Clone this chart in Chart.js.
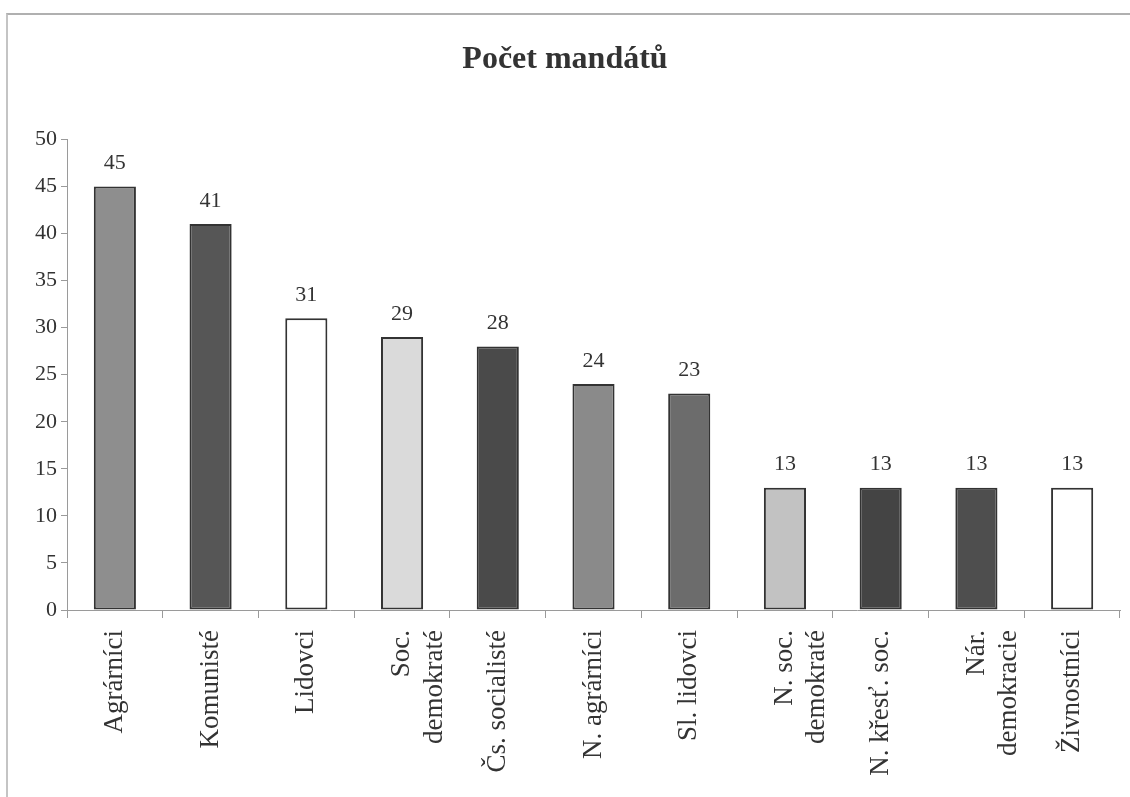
<!DOCTYPE html>
<html>
<head>
<meta charset="utf-8">
<title>Počet mandátů</title>
<script src="https://cdn.jsdelivr.net/npm/chart.js@4"></script>
<style>
    body { margin: 0; background: #fff; }
    #wrap { position: relative; width: 1130px; height: 797px; }
    #frame {
        position: absolute; left: 6px; top: 13px; right: 0; bottom: 0;
        border-top: 2px solid #b0b0b0; border-left: 2px solid #c4c4c4;
    }
    canvas { position: absolute; left: 0; top: 0; }
</style>
</head>
<body>
<div id="wrap">
    <div id="frame"></div>
    <canvas id="chart" width="1130" height="797"></canvas>
</div>
<script>
// Strany a počty mandátů
const categories = [
    "Agrárníci", "Komunisté", "Lidovci", ["Soc.", "demokraté"], "Čs. socialisté",
    "N. agrárníci", "Sl. lidovci", ["N. soc.", "demokraté"], "N. křesť. soc.",
    ["Nár.", "demokracie"], "Živnostníci"
];
const seats = [45, 41, 31, 29, 28, 24, 23, 13, 13, 13, 13];
const barColors = [
    "#8e8e8e", "#565656", "#ffffff", "#dadada", "#4a4a4a",
    "#8a8a8a", "#6c6c6c", "#c2c2c2", "#444444", "#4e4e4e", "#ffffff"
];
const yTicks = [0, 5, 10, 15, 20, 25, 30, 35, 40, 45, 50];

const serif = "'Liberation Serif', 'DejaVu Serif', serif";
const textColor = "#333333";
const axisColor = "#9a9a9a";

// Popisky hodnot nad sloupci
const valueLabels = {
    id: "valueLabels",
    afterDatasetsDraw(chart) {
        const ctx = chart.ctx;
        const meta = chart.getDatasetMeta(0);
        ctx.save();
        ctx.font = "22px " + serif;
        ctx.fillStyle = textColor;
        ctx.textAlign = "center";
        ctx.textBaseline = "middle";
        meta.data.forEach((bar, i) => {
            ctx.fillText(String(seats[i]), bar.x, bar.y - 23);
        });
        ctx.restore();
    }
};

new Chart(document.getElementById("chart"), {
    type: "bar",
    data: {
        labels: categories,
        datasets: [{
            data: seats,
            backgroundColor: barColors,
            borderColor: "#333333",
            borderWidth: 2,
            borderSkipped: false,
            categoryPercentage: 1,
            barPercentage: 0.44
        }]
    },
    options: {
        responsive: false,
        animation: false,
        layout: { padding: { left: 10, right: 10, top: 0, bottom: 0 } },
        plugins: {
            legend: { display: false },
            tooltip: { enabled: false },
            title: {
                display: true,
                text: "Počet mandátů",
                color: textColor,
                font: { family: serif, size: 32, weight: "bold" },
                padding: { top: 41, bottom: 60 }
            }
        },
        scales: {
            x: {
                grid: {
                    display: true, drawOnChartArea: false, offset: true,
                    color: axisColor, tickLength: 8
                },
                border: { color: axisColor, width: 1 },
                ticks: {
                    color: textColor,
                    font: { family: serif, size: 27 },
                    minRotation: 90, maxRotation: 90,
                    autoSkip: false, padding: 12
                },
                afterFit(scale) { scale.height = 187; }
            },
            y: {
                min: 0, max: 50,
                grid: {
                    display: true, drawOnChartArea: false,
                    color: axisColor, tickLength: 6
                },
                border: { color: axisColor, width: 1 },
                ticks: {
                    stepSize: 5,
                    color: textColor,
                    font: { family: serif, size: 22 },
                    padding: 4,
                    callback: (v) => yTicks.includes(v) ? v : ""
                },
                afterFit(scale) { scale.width = 57; }
            }
        }
    },
    plugins: [valueLabels]
});
</script>
</body>
</html>
